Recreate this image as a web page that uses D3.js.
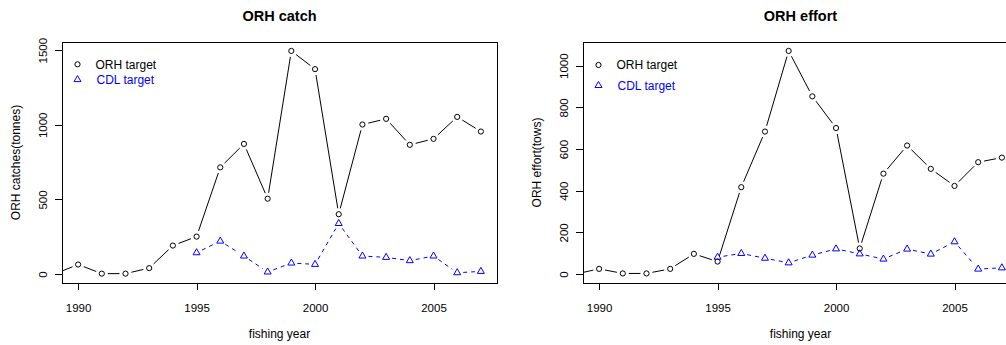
<!DOCTYPE html>
<html>
<head>
<meta charset="utf-8">
<script src="https://cdn.jsdelivr.net/npm/d3@7"></script>
<style>
  body { margin: 0; background: #fff; }
  svg { font-family: "Liberation Sans", Arial, Helvetica, sans-serif; display: block; }
</style>
</head>
<body>
<svg id="chart" width="1006" height="345"></svg>
<script>
// fishing years (1989 value sits just outside the plotted x range)
const years = [1989, 1990, 1991, 1992, 1993, 1994, 1995, 1996, 1997, 1998, 1999,
  2000, 2001, 2002, 2003, 2004, 2005, 2006, 2007];
const cdlYears = [1995, 1996, 1997, 1998, 1999, 2000, 2001, 2002, 2003, 2004, 2005, 2006, 2007];

// ORH catch (tonnes)
const catchOrh = [0, 64, 3, 3, 40, 191, 251, 715, 872, 505, 1495, 1373, 401, 1002, 1040, 866, 906, 1053, 955];
const catchCdl = [143, 221, 121, 14, 74, 65, 339, 121, 112, 90, 121, 9, 18];

// ORH effort (tows)
const effortOrh = [0, 25, 3, 3, 25, 97, 60, 417, 684, 1071, 853, 701, 123, 482, 617, 505, 423, 537, 559];
const effortCdl = [81, 99, 76, 54, 91, 121, 97, 72, 120, 96, 155, 24, 30];

const xTicks = [1990, 1995, 2000, 2005];
const catchTicks = [0, 500, 1000, 1500];
const effortTicks = [0, 200, 400, 600, 800, 1000];
const legendLabels = ["ORH target", "CDL target"];

const svg = d3.select("#chart");
const BLUE = "#0000ff";

// R style range: data extent widened by 4%
function rRange(lo, hi) {
  const pad = (hi - lo) * 0.04;
  return [lo - pad, hi + pad];
}

function drawPanel(cfg) {
  const m = cfg.box;
  const x = d3.scaleLinear().domain(rRange(1990, 2007)).range([m.left, m.right]);
  const y = d3.scaleLinear().domain(rRange(0, d3.max(cfg.orh))).range([m.bottom, m.top]);

  const g = svg.append("g");

  const clipId = "clip-" + cfg.id;
  svg.append("clipPath").attr("id", clipId)
    .append("rect")
    .attr("x", m.left).attr("y", m.top)
    .attr("width", m.right - m.left).attr("height", m.bottom - m.top);

  // title
  g.append("text")
    .attr("x", (m.left + m.right) / 2)
    .attr("y", 21)
    .attr("text-anchor", "middle")
    .style("font-size", "14.5px")
    .style("font-weight", "bold")
    .text(cfg.title);

  // axes
  const xAxis = d3.axisBottom(x).tickValues(xTicks).tickFormat(d3.format("d")).tickSize(7).tickPadding(14);
  const xg = g.append("g").attr("transform", `translate(0,${m.bottom})`).call(xAxis);
  xg.select(".domain").remove();
  xg.selectAll("text").style("font-size", "11.5px").attr("fill", "#000");
  xg.selectAll("line").attr("stroke", "#000").attr("shape-rendering", "crispEdges");

  const yAxis = d3.axisLeft(y).tickValues(cfg.yTicks).tickSize(7).tickFormat(d3.format("d"));
  const yg = g.append("g").attr("transform", `translate(${m.left},0)`).call(yAxis);
  yg.select(".domain").remove();
  yg.selectAll("line").attr("stroke", "#000").attr("shape-rendering", "crispEdges");
  yg.selectAll("text")
    .attr("x", null).attr("dy", null)
    .attr("text-anchor", "middle")
    .attr("transform", "translate(-15.5,0) rotate(-90)")
    .style("font-size", "11.5px")
    .attr("fill", "#000");

  // axis titles
  g.append("text")
    .attr("x", (m.left + m.right) / 2)
    .attr("y", 338)
    .attr("text-anchor", "middle")
    .style("font-size", "12px")
    .text("fishing year");

  g.append("text")
    .attr("transform", `translate(${m.left - 42},${(m.top + m.bottom) / 2}) rotate(-90)`)
    .attr("text-anchor", "middle")
    .style("font-size", "12px")
    .text(cfg.yLabel);

  // box
  g.append("rect")
    .attr("x", m.left).attr("y", m.top)
    .attr("width", m.right - m.left).attr("height", m.bottom - m.top)
    .attr("fill", "none").attr("stroke", "#000")
    .attr("shape-rendering", "crispEdges");

  const plot = g.append("g").attr("clip-path", `url(#${clipId})`);

  // type "b" lines: segments stop short of each point
  function drawSeries(xs, ys, color, dash, shape) {
    const pts = xs.map((yr, i) => [x(yr), y(ys[i])]);
    const gap = 6;
    const segs = [];
    for (let i = 0; i < pts.length - 1; i++) {
      const [x1, y1] = pts[i], [x2, y2] = pts[i + 1];
      const len = Math.hypot(x2 - x1, y2 - y1);
      if (len <= 2 * gap) continue;
      const ux = (x2 - x1) / len, uy = (y2 - y1) / len;
      segs.push([x1 + ux * gap, y1 + uy * gap, x2 - ux * gap, y2 - uy * gap]);
    }
    plot.selectAll(null).data(segs).join("line")
      .attr("x1", d => d[0]).attr("y1", d => d[1])
      .attr("x2", d => d[2]).attr("y2", d => d[3])
      .attr("stroke", color).attr("stroke-width", 1)
      .attr("stroke-dasharray", dash);
    drawSymbols(plot, pts, color, shape);
  }

  drawSeries(years, cfg.orh, "#000", null, "circle");
  drawSeries(cdlYears, cfg.cdl, BLUE, "4,4", "triangle");

  // legend
  const lg = g.append("g");
  const syms = [
    { label: legendLabels[0], color: "#000", shape: "circle", dx: 0 },
    { label: legendLabels[1], color: BLUE, shape: "triangle", dx: 1 }
  ];
  syms.forEach((s, i) => {
    const ly = cfg.legendY + i * cfg.legendStep;
    drawSymbols(lg, [[m.left + 15.5, ly]], s.color, s.shape);
    lg.append("text")
      .attr("x", m.left + 33.5 + s.dx)
      .attr("y", ly + 4.3)
      .style("font-size", "12px")
      .attr("fill", s.color)
      .text(s.label);
  });
}

function drawSymbols(sel, pts, color, shape) {
  const r = 2.6;
  if (shape === "circle") {
    sel.selectAll(null).data(pts).join("circle")
      .attr("cx", d => d[0]).attr("cy", d => d[1]).attr("r", r)
      .attr("fill", "none").attr("stroke", color).attr("stroke-width", 1);
  } else {
    const top = r * 1.555, xc = r * 1.347, yc = r * 0.778;
    sel.selectAll(null).data(pts).join("path")
      .attr("d", d => `M${d[0]},${d[1] - top}L${d[0] + xc},${d[1] + yc}L${d[0] - xc},${d[1] + yc}Z`)
      .attr("fill", "none").attr("stroke", color).attr("stroke-width", 1);
  }
}

drawPanel({
  id: "catch",
  title: "ORH catch",
  yLabel: "ORH catches(tonnes)",
  box: { left: 62, right: 497, top: 42, bottom: 283 },
  orh: catchOrh,
  cdl: catchCdl,
  yTicks: catchTicks,
  legendY: 64.3,
  legendStep: 15.3
});

drawPanel({
  id: "effort",
  title: "ORH effort",
  yLabel: "ORH effort(tows)",
  box: { left: 583, right: 1018, top: 42, bottom: 283 },
  orh: effortOrh,
  cdl: effortCdl,
  yTicks: effortTicks,
  legendY: 65,
  legendStep: 20.5
});
</script>
</body>
</html>
